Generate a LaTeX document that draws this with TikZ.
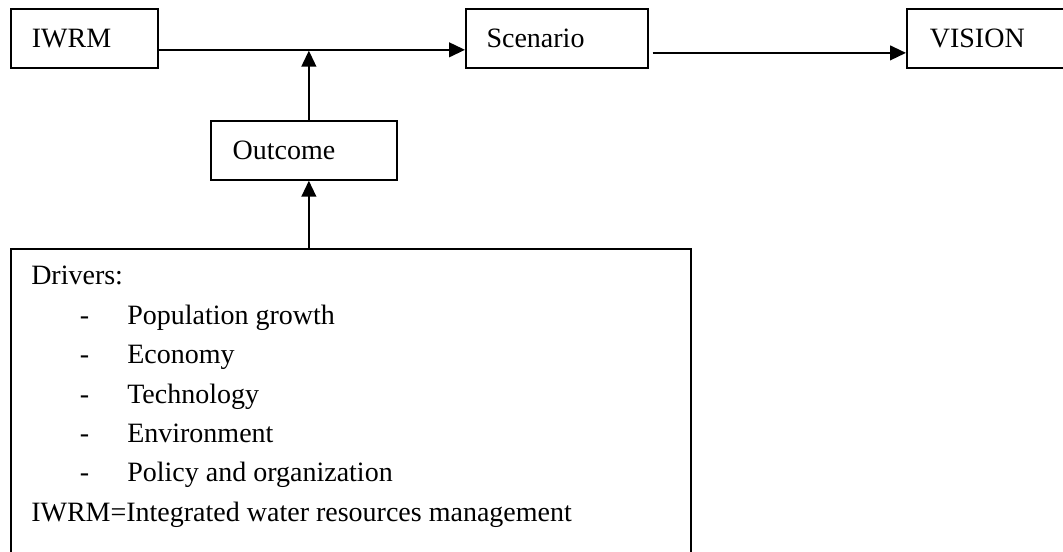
\documentclass[tikz,border=0pt]{standalone}
\usepackage{fontspec}
\setmainfont{Liberation Serif}
\usetikzlibrary{arrows.meta}
\tikzset{
  txt/.style={font=\fontsize{21pt}{29.55pt}\selectfont},
  box/.style={txt, draw, line width=1.3pt, anchor=north west, align=left, inner ysep=0pt, minimum height=44.25pt},
  arr/.style={line width=1.6pt, -{Triangle[length=12pt,width=11pt]}},
}
\begin{document}
\begin{tikzpicture}[x=0.75pt,y=-0.75pt]
\useasboundingbox (0,0) rectangle (1063,552);
\clip (0,0) rectangle (1063,552);
\node[box, inner xsep=15.75pt, text width=78.75pt] (iwrm) at (10,8) {IWRM};
\node[box, inner xsep=15.5pt, text width=105.5pt] (scenario) at (465,8) {Scenario};
\node[box, inner xsep=17.25pt, text width=93pt] (vision) at (906,8) {VISION};
\node[box, inner xsep=16.3pt, text width=106.9pt] (outcome) at (210,120) {Outcome};
\node[draw, line width=1.3pt, anchor=north west, minimum width=510pt, minimum height=247.5pt, inner sep=0pt] (drivers) at (10,248) {};
\node[txt, anchor=north west, inner sep=0pt, align=left] (drvtext) at (31,266) {Drivers:\\
\makebox[72pt][l]{\hspace{36.5pt}-}Population growth\\
\makebox[72pt][l]{\hspace{36.5pt}-}Economy\\
\makebox[72pt][l]{\hspace{36.5pt}-}Technology\\
\makebox[72pt][l]{\hspace{36.5pt}-}Environment\\
\makebox[72pt][l]{\hspace{36.5pt}-}Policy and organization\\
IWRM=Integrated water resources management};
\coordinate (j) at ([yshift=-8.6pt]iwrm.east);
\draw[arr] (j) -- (scenario.west |- j);
\draw[arr] ([xshift=3pt,yshift=-10.9pt]scenario.east) -- ([yshift=-10.9pt]vision.west);
\draw[arr] ([xshift=3.75pt]outcome.north) -- ([xshift=3.75pt,yshift=-0.6pt]outcome.north |- j);
\draw[arr] ([xshift=3.75pt]outcome.south |- drivers.north) -- ([xshift=3.75pt]outcome.south);
\end{tikzpicture}
\end{document}
